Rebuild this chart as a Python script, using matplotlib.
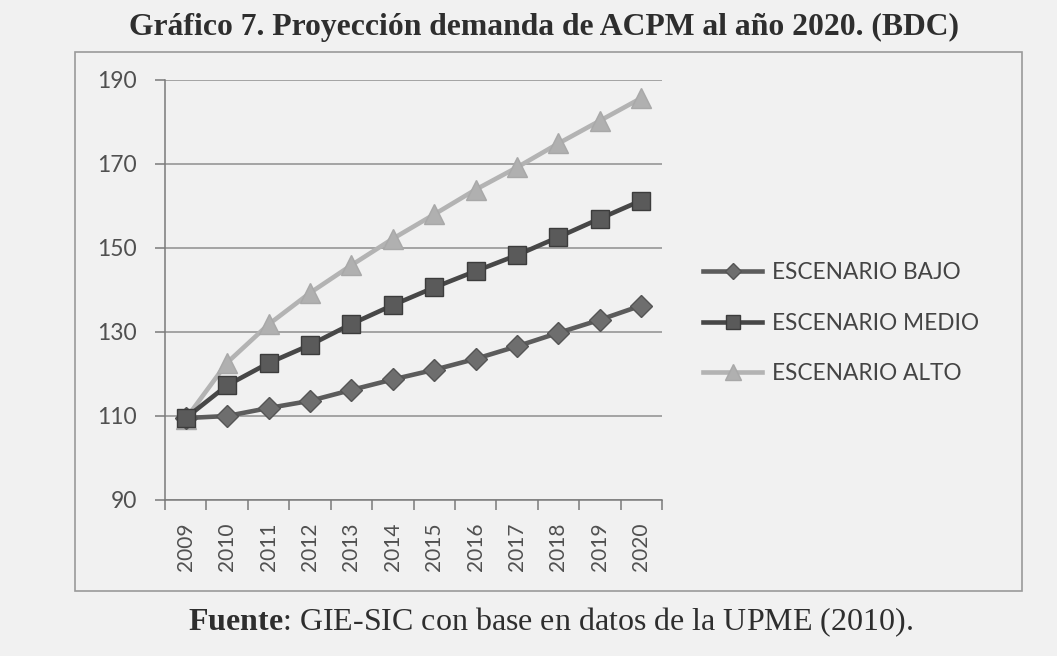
import matplotlib
matplotlib.use("Agg")
import matplotlib.pyplot as plt
from matplotlib.patches import Rectangle
from matplotlib.ticker import FixedLocator

plt.rcParams["mathtext.fontset"] = "custom"
plt.rcParams["mathtext.rm"] = "Liberation Serif"
plt.rcParams["mathtext.bf"] = "Liberation Serif:bold"

years = ["2009", "2010", "2011", "2012", "2013", "2014", "2015", "2016",
         "2017", "2018", "2019", "2020"]
bajo = [109.5, 110.0, 111.9, 113.6, 116.2, 118.7, 121.0, 123.6, 126.6, 129.8, 132.9, 136.3]
medio = [109.5, 117.3, 122.6, 126.9, 131.9, 136.4, 140.6, 144.5, 148.3, 152.6, 157.0, 161.3]
alto = [109.3, 122.7, 131.8, 139.3, 145.9, 152.2, 158.0, 163.9, 169.2, 174.9, 180.3, 185.7]
series_labels = ["ESCENARIO BAJO", "ESCENARIO MEDIO", "ESCENARIO ALTO"]
yticks = [90, 110, 130, 150, 170, 190]

title = "Gráfico 7. Proyección demanda de ACPM al año 2020. (BDC)"

W, H = 1057, 656
bg = "#f1f1f1"
fig = plt.figure(figsize=(W / 100, H / 100), dpi=100, facecolor=bg)

# outer chart frame
fig.patches.append(Rectangle((75 / W, 1 - 591 / H), (1022 - 75) / W, (591 - 52) / H,
                             transform=fig.transFigure, fill=False,
                             edgecolor="#9a9a9a", linewidth=1.2))

ax = fig.add_axes([165 / W, 1 - 500 / H, (662 - 165) / W, (500 - 80) / H])
ax.set_facecolor("none")

x = list(range(len(years)))
ax.plot(x, bajo, color="#5c5c5c", lw=3.3, marker="D", ms=11,
        mfc="#6e6e6e", mec="#555555", label=series_labels[0], zorder=3)
ax.plot(x, medio, color="#474747", lw=3.3, marker="s", ms=13,
        mfc="#5a5a5a", mec="#3c3c3c", label=series_labels[1], zorder=4)
ax.plot(x, alto, color="#b3b3b3", lw=3.3, marker="^", ms=15,
        mfc="#b0b0b0", mec="#a8a8a8", label=series_labels[2], zorder=2)

ax.set_xlim(-0.5, len(years) - 0.5)
ax.set_ylim(90, 190)
ax.set_yticks(yticks)
ax.set_yticklabels([str(v) for v in yticks])
ax.yaxis.grid(True, color="#8f8f8f", lw=1.1)
ax.set_axisbelow(True)

ax.set_xticks(x)
ax.set_xticklabels(years, rotation=90)
ax.xaxis.set_minor_locator(FixedLocator([i - 0.5 for i in range(len(years) + 1)]))
ax.tick_params(axis="x", which="major", length=0, pad=16)
ax.tick_params(axis="x", which="minor", length=7, color="#7a7a7a", width=1.1)
ax.tick_params(axis="y", length=7, color="#7a7a7a", width=1.1, pad=13)

fam = ["Lato", "DejaVu Sans"]
for lab in ax.get_xticklabels():
    lab.set_fontfamily(fam)
    lab.set_fontsize(15)
    lab.set_color("#505050")
for lab in ax.get_yticklabels():
    lab.set_fontfamily(fam)
    lab.set_fontsize(16.5)
    lab.set_color("#505050")

for s in ["top", "right"]:
    ax.spines[s].set_visible(False)
for s in ["left", "bottom"]:
    ax.spines[s].set_color("#7a7a7a")
    ax.spines[s].set_linewidth(1.1)

leg = ax.legend(loc="center left", bbox_to_anchor=(683 / W, 1 - 323 / H),
                bbox_transform=fig.transFigure, frameon=False,
                prop=dict(family=fam, size=16.3),
                handlelength=2.6, handletextpad=0.42, labelspacing=1.3,
                markerscale=0.75)
for t in leg.get_texts():
    t.set_color("#444444")

fig.text(544 / W, 1 - 27 / H, title, ha="center", va="center",
         family=["Liberation Serif", "DejaVu Serif"], weight="bold",
         size=22.8, color="#2e2e2e")

fig.text(551 / W, 1 - 622 / H,
         r"$\mathbf{Fuente}$: GIE-SIC con base en datos de la UPME (2010).",
         ha="center", va="center", family=["Liberation Serif", "DejaVu Serif"],
         size=23, color="#2e2e2e")

fig.savefig("out.png", dpi=100, facecolor=bg)
